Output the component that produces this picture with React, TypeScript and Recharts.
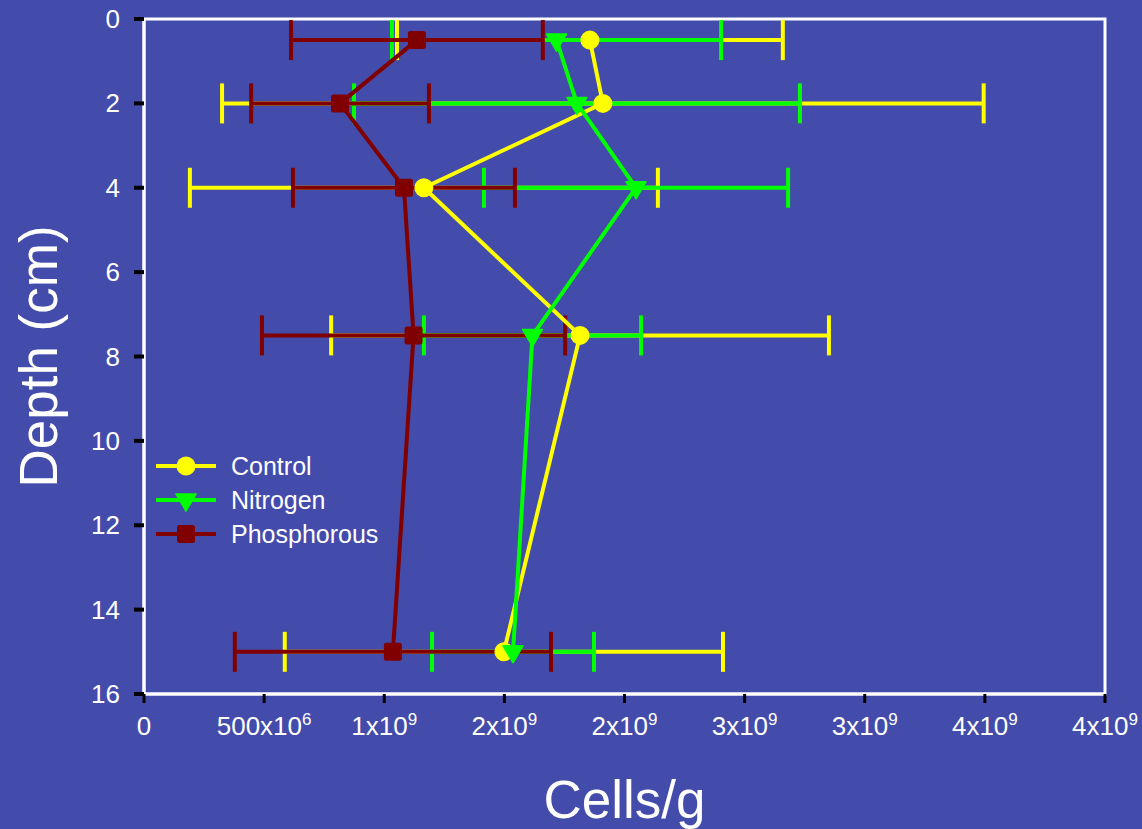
import React from 'react'
import {
  ScatterChart,
  Scatter,
  XAxis,
  YAxis,
  ErrorBar,
  ReferenceArea,
  Label,
} from 'recharts'

document.body.style.margin = '0'

const DEPTHS = [0.5, 2, 4, 7.5, 15]

const CONTROL = [1.856e9, 1.91e9, 1.165e9, 1.815e9, 1.498e9]
const CONTROL_ERR = [0.803e9, 1.585e9, 0.974e9, 1.036e9, 0.912e9]
const NITROGEN = [1.717e9, 1.802e9, 2.048e9, 1.617e9, 1.536e9]
const NITROGEN_ERR = [0.685e9, 0.928e9, 0.633e9, 0.452e9, 0.337e9]
const PHOSPHOROUS = [1.136e9, 0.816e9, 1.082e9, 1.122e9, 1.036e9]
const PHOSPHOROUS_ERR = [0.524e9, 0.37e9, 0.462e9, 0.631e9, 0.658e9]

const X_TICKS = [0, 0.5e9, 1e9, 1.5e9, 2e9, 2.5e9, 3e9, 3.5e9, 4e9]
// base / exponent pairs for the tick labels
const X_TICK_LABELS: [string, string][] = [
  ['0', ''],
  ['500x10', '6'],
  ['1x10', '9'],
  ['2x10', '9'],
  ['2x10', '9'],
  ['3x10', '9'],
  ['3x10', '9'],
  ['4x10', '9'],
  ['4x10', '9'],
]
const Y_TICKS = [0, 2, 4, 6, 8, 10, 12, 14, 16]

const BG = '#434bab'
const FONT = '"Liberation Sans", Arial, Helvetica, sans-serif'

type Marker = 'circle' | 'triangle' | 'square'

const SERIES = [
  { name: 'Control', values: CONTROL, errs: CONTROL_ERR, color: '#ffff00', marker: 'circle' as Marker },
  { name: 'Nitrogen', values: NITROGEN, errs: NITROGEN_ERR, color: '#00ff00', marker: 'triangle' as Marker },
  { name: 'Phosphorous', values: PHOSPHOROUS, errs: PHOSPHOROUS_ERR, color: '#800000', marker: 'square' as Marker },
]

function buildData(values: number[], errs: number[]) {
  return DEPTHS.map((depth, i) => ({ cells: values[i], depth, err: errs[i] }))
}

function MarkerShape({ cx, cy, marker, color }: { cx: number; cy: number; marker: Marker; color: string }) {
  if (marker === 'circle') return <circle cx={cx} cy={cy} r={9.5} fill={color} />
  if (marker === 'triangle')
    return <polygon points={`${cx - 10},${cy - 6} ${cx + 10},${cy - 6} ${cx},${cy + 11}`} fill={color} stroke={color} strokeLinejoin="round" strokeWidth={1.5} />
  return <rect x={cx - 9} y={cy - 9} width={18} height={18} rx={2.5} fill={color} />
}

function XTick(props: any) {
  const { x, y, payload } = props
  const idx = X_TICKS.indexOf(payload.value)
  const [base, exp] = X_TICK_LABELS[idx] || [String(payload.value), '']
  return (
    <text x={x} y={y + 30} textAnchor="middle" fill="#fff" fontSize={26} fontFamily={FONT}>
      {base}
      {exp && (
        <tspan dy={-10} fontSize={17}>
          {exp}
        </tspan>
      )}
    </text>
  )
}

function YTick(props: any) {
  const { x, y, payload } = props
  return (
    <text x={x - 12} y={y + 9} textAnchor="end" fill="#fff" fontSize={26} fontFamily={FONT}>
      {payload.value}
    </text>
  )
}

function LegendBox() {
  return (
    <div style={{ position: 'absolute', left: 155, top: 449, fontFamily: FONT, color: '#fff', fontSize: 25 }}>
      {SERIES.map((s) => (
        <div key={s.name} style={{ display: 'flex', alignItems: 'center', height: 34 }}>
          <svg width={62} height={24} style={{ marginRight: 14 }}>
            <line x1={1} y1={12} x2={61} y2={12} stroke={s.color} strokeWidth={4} />
            <MarkerShape cx={31} cy={12} marker={s.marker} color={s.color} />
          </svg>
          <span>{s.name}</span>
        </div>
      ))}
    </div>
  )
}

export default function App() {
  return (
    <div style={{ width: 1142, height: 829, background: BG, position: 'relative' }}>
      <ScatterChart width={1142} height={829} margin={{ top: 19, right: 37, bottom: 0, left: 0 }}>
        <XAxis
          type="number"
          dataKey="cells"
          domain={[0, 4e9]}
          ticks={X_TICKS}
          allowDataOverflow
          height={135}
          stroke="#fff"
          axisLine={{ stroke: '#fff', strokeWidth: 3 }}
          tickLine={{ stroke: '#000', strokeWidth: 3 }}
          tickSize={9}
          tick={<XTick />}
          interval={0}
        >
          <Label
            content={(p: any) => {
              const vb = p.viewBox || {}
              return (
                <text x={vb.x + vb.width / 2} y={818} textAnchor="middle" fill="#fff" fontSize={53} fontFamily={FONT}>
                  Cells/g
                </text>
              )
            }}
          />
        </XAxis>
        <YAxis
          type="number"
          dataKey="depth"
          domain={[0, 16]}
          ticks={Y_TICKS}
          reversed
          allowDataOverflow
          width={144}
          axisLine={{ stroke: '#fff', strokeWidth: 3 }}
          tickLine={{ stroke: '#000', strokeWidth: 4 }}
          tickSize={10}
          tick={<YTick />}
          interval={0}
        >
          <Label
            content={(p: any) => {
              const vb = p.viewBox || {}
              const cy = vb.y + vb.height / 2
              return (
                <text x={57} y={cy} transform={`rotate(-90, 57, ${cy})`} textAnchor="middle" fill="#fff" fontSize={53} fontFamily={FONT}>
                  Depth (cm)
                </text>
              )
            }}
          />
        </YAxis>
        <ReferenceArea x1={0} x2={4e9} y1={0} y2={16} fill="none" stroke="#fff" strokeWidth={3} ifOverflow="visible" />

        {/* error bars first so every marker sits on top of them */}
        {SERIES.map((s) => (
          <Scatter
            key={`err-${s.name}`}
            data={buildData(s.values, s.errs)}
            shape={() => <g />}
            isAnimationActive={false}
            legendType="none"
          >
            <ErrorBar dataKey="err" direction="x" width={20} stroke={s.color} strokeWidth={4} isAnimationActive={false} />
          </Scatter>
        ))}
        {SERIES.map((s) => (
          <Scatter
            key={s.name}
            name={s.name}
            data={buildData(s.values, s.errs)}
            fill={s.color}
            line={{ stroke: s.color, strokeWidth: 4 }}
            shape={(p: any) => <MarkerShape cx={p.cx} cy={p.cy} marker={s.marker} color={s.color} />}
            isAnimationActive={false}
          />
        ))}
      </ScatterChart>
      <LegendBox />
    </div>
  )
}
